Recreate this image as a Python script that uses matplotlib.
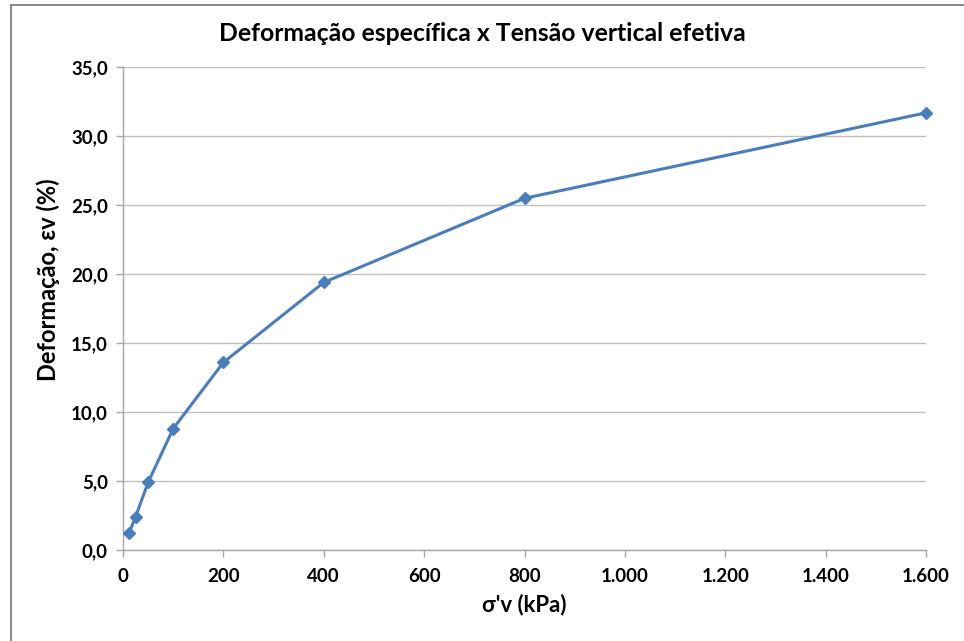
import matplotlib
matplotlib.use("Agg")
import matplotlib.pyplot as plt
from matplotlib.ticker import FuncFormatter, MultipleLocator
from matplotlib.lines import Line2D

plt.rcParams['font.family'] = ['Lato', 'DejaVu Sans']

tensao = [12.5, 25, 50, 100, 200, 400, 800, 1600]
deformacao = [1.25, 2.4, 4.9, 8.8, 13.6, 19.4, 25.5, 31.7]

title = "Deformação específica x Tensão vertical efetiva"
xlabel = "σ'v (kPa)"
ylabel = "Deformação, εv (%)"

fig = plt.figure(figsize=(9.64, 6.41), dpi=100)
ax = fig.add_axes([0.1276, 0.142, 0.833, 0.753])

color = '#4a7ebb'
ax.plot(tensao, deformacao, color=color, lw=2.2, marker='D', ms=6.5,
        markerfacecolor=color, markeredgecolor=color, zorder=3, clip_on=False)

ax.set_xlim(0, 1600)
ax.set_ylim(0, 35)
ax.xaxis.set_major_locator(MultipleLocator(200))
ax.yaxis.set_major_locator(MultipleLocator(5))

def fx(v, p):
    return f"{int(round(v)):,}".replace(",", ".")
def fy(v, p):
    return f"{v:.1f}".replace(".", ",")
ax.xaxis.set_major_formatter(FuncFormatter(fx))
ax.yaxis.set_major_formatter(FuncFormatter(fy))

ax.grid(axis='y', color='#bfbfbf', lw=1.0)
ax.set_axisbelow(True)
for s in ['top', 'right']:
    ax.spines[s].set_visible(False)
for s in ['left', 'bottom']:
    ax.spines[s].set_color('#a6a6a6')
    ax.spines[s].set_linewidth(1.0)
ax.tick_params(axis='both', colors='#a6a6a6', length=5, width=1.0,
               labelcolor='black', labelsize=13.5)
for lbl in ax.get_xticklabels() + ax.get_yticklabels():
    lbl.set_fontweight('bold')
ax.tick_params(axis='x', pad=8)
ax.tick_params(axis='y', pad=6)

ax.set_xlabel(xlabel, fontsize=16, fontweight='bold', labelpad=6)
ax.set_ylabel(ylabel, fontsize=17, fontweight='bold', labelpad=8)
ax.yaxis.label.set_y(0.56)
fig.suptitle(title, fontsize=17.8, fontweight='bold', y=0.966)

# chart frame (top and left edges visible)
fig.add_artist(Line2D([11/964, 11/964], [0, 1 - 5/641], transform=fig.transFigure,
                      color='#808080', lw=1.3))
fig.add_artist(Line2D([11/964, 1], [1 - 5/641, 1 - 5/641], transform=fig.transFigure,
                      color='#808080', lw=1.3))

fig.savefig("out.png", dpi=100)
